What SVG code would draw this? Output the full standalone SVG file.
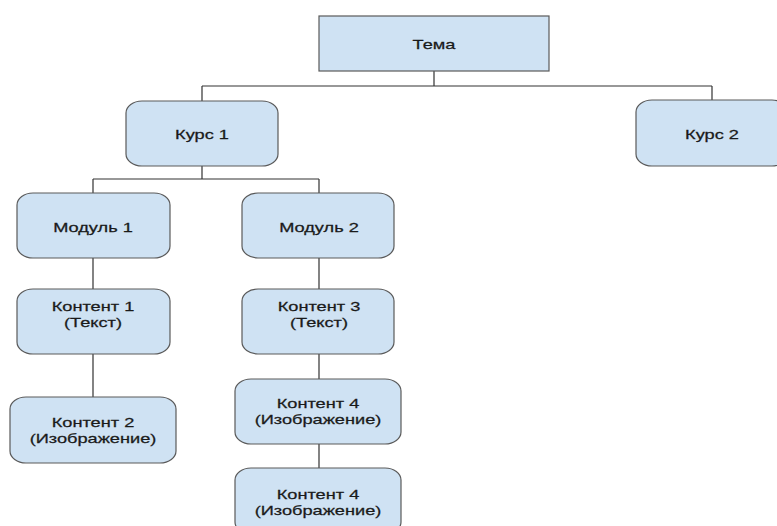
<svg xmlns="http://www.w3.org/2000/svg" width="777" height="526" viewBox="0 0 777 526">
<style>
.box{fill:#cfe2f3;stroke:#5a5a5a;stroke-width:1.2}
.lbl{font-family:"Liberation Sans",Arial,sans-serif;font-size:13px;fill:#1a1a1a;stroke:#1a1a1a;stroke-width:0.25;text-anchor:middle}
.con{fill:none;stroke:#333;stroke-width:1.2}
</style>
<rect width="777" height="526" fill="#fff"/>
<g id="connectors">
<path class="con" d="M434,71V86M202,86H712M202,86V101M712,86V100"/>
<path class="con" d="M202,166V179M93,179H319M93,179V193M319,179V193"/>
<path class="con" d="M93,258V289M93,354V397"/>
<path class="con" d="M319,258V289M319,354V379M319,444V468"/>
</g>
<g id="tema">
<rect class="box" x="319" y="16" width="230" height="55"/>
<text class="lbl" transform="translate(434,49) scale(1.4,1)">Тема</text>
</g>
<g id="kurs1">
<rect class="box" x="126" y="101" width="152" height="65" rx="16" ry="12"/>
<text class="lbl" transform="translate(202,138.5) scale(1.4,1)">Курс 1</text>
</g>
<g id="kurs2">
<rect class="box" x="636" y="100" width="152" height="66" rx="16" ry="12"/>
<text class="lbl" transform="translate(712,138.5) scale(1.4,1)">Курс 2</text>
</g>
<g id="modul1">
<rect class="box" x="17" y="193" width="153" height="65" rx="16" ry="12"/>
<text class="lbl" transform="translate(93,231.5) scale(1.4,1)">Модуль 1</text>
</g>
<g id="modul2">
<rect class="box" x="242" y="193" width="152" height="65" rx="16" ry="12"/>
<text class="lbl" transform="translate(319,231.5) scale(1.4,1)">Модуль 2</text>
</g>
<g id="kontent1">
<rect class="box" x="17" y="289" width="153" height="65" rx="16" ry="12"/>
<text class="lbl" transform="translate(93,310.5) scale(1.4,1)">Контент 1</text>
<text class="lbl" transform="translate(93,327) scale(1.4,1)">(Текст)</text>
</g>
<g id="kontent2">
<rect class="box" x="10" y="397" width="166" height="66" rx="16" ry="12"/>
<text class="lbl" transform="translate(93,426.5) scale(1.4,1)">Контент 2</text>
<text class="lbl" transform="translate(93,443) scale(1.4,1)">(Изображение)</text>
</g>
<g id="kontent3">
<rect class="box" x="242" y="289" width="152" height="65" rx="16" ry="12"/>
<text class="lbl" transform="translate(319,310.5) scale(1.4,1)">Контент 3</text>
<text class="lbl" transform="translate(319,327) scale(1.4,1)">(Текст)</text>
</g>
<g id="kontent4a">
<rect class="box" x="235" y="379" width="166" height="65" rx="16" ry="12"/>
<text class="lbl" transform="translate(318,407.5) scale(1.4,1)">Контент 4</text>
<text class="lbl" transform="translate(318,424) scale(1.4,1)">(Изображение)</text>
</g>
<g id="kontent4b">
<rect class="box" x="235" y="468" width="166" height="66" rx="16" ry="12"/>
<text class="lbl" transform="translate(318,498.5) scale(1.4,1)">Контент 4</text>
<text class="lbl" transform="translate(318,515) scale(1.4,1)">(Изображение)</text>
</g>
</svg>
